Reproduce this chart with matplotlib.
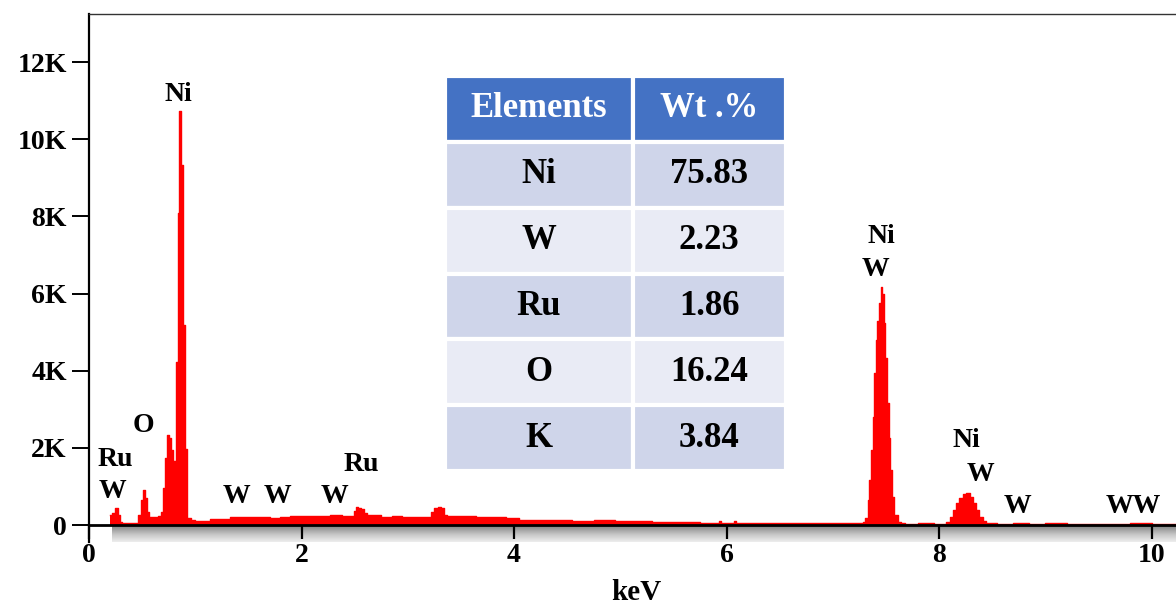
import numpy as np
import matplotlib as mpl
import matplotlib.pyplot as plt
from matplotlib.colors import LinearSegmentedColormap


mpl.rcParams.update({
    'font.family': 'serif',
    'font.serif': ['Liberation Serif', 'DejaVu Serif'],
    'font.weight': 'bold',
    'figure.facecolor': 'white',
    'axes.facecolor': 'white',
})

# EDS spectrum: left bin edge (keV) -> counts
LOW_KEV = [0.20, 0.22, 0.245, 0.275, 0.29, 0.31, 0.36, 0.41, 0.46, 0.49,
           0.51, 0.53, 0.545, 0.565, 0.61, 0.65, 0.68, 0.70, 0.715, 0.735,
           0.75, 0.77, 0.79, 0.82, 0.835, 0.85, 0.865, 0.88, 0.90, 0.92]
LOW_CNT = [260, 310, 430, 260, 85, 45, 60, 40, 260, 650,
           900, 690, 345, 215, 200, 230, 345, 950, 1730, 2330,
           2250, 1940, 1650, 4220, 8100, 10720, 9320, 5180, 1970, 180]

BG_KEV = [0.96, 1.00, 1.14, 1.25, 1.33, 1.40, 1.51, 1.60, 1.70, 1.80,
          1.89, 2.00, 2.10, 2.20, 2.27, 2.38, 2.49, 2.51, 2.53, 2.56,
          2.59, 2.62, 2.68, 2.75, 2.85, 2.95, 3.05, 3.16, 3.22, 3.25,
          3.28, 3.31, 3.34, 3.37, 3.45, 3.55, 3.64, 3.78, 3.92, 4.05,
          4.20, 4.40, 4.55, 4.75, 4.95, 5.11, 5.30, 5.55, 5.75, 5.93,
          5.95, 6.07, 6.09, 6.40, 6.80, 7.10]
BG_CNT = [130, 112, 147, 160, 200, 215, 200, 210, 195, 215,
          233, 225, 240, 230, 250, 245, 360, 475, 440, 425,
          320, 260, 250, 215, 225, 210, 220, 200, 345, 430,
          475, 430, 260, 233, 240, 225, 200, 210, 175, 130,
          140, 125, 112, 118, 105, 95, 86, 80, 43, 100,
          45, 100, 43, 45, 40, 43]

# Ni K-alpha / W L-alpha
KA_KEV = [7.25, 7.28, 7.30, 7.33, 7.345, 7.36, 7.375, 7.39, 7.405, 7.42,
          7.435, 7.45, 7.465, 7.48, 7.495, 7.51, 7.525, 7.54, 7.56, 7.58,
          7.61, 7.645, 7.68, 7.80, 7.95]
KA_CNT = [45, 85, 180, 650, 1170, 1940, 2800, 3930, 4790, 5300,
          5750, 6170, 6000, 5230, 4320, 3160, 2250, 1420, 730, 260,
          85, 40, 35, 40, 30]

# Ni K-beta / W L-beta
KB_KEV = [8.07, 8.10, 8.13, 8.16, 8.19, 8.225, 8.255, 8.29, 8.32, 8.35,
          8.38, 8.41, 8.44]
KB_CNT = [85, 215, 390, 560, 690, 800, 840, 730, 560, 390,
          215, 110, 45]

TAIL_KEV = [8.55, 8.70, 8.85, 9.00, 9.20, 9.40, 9.60, 9.80, 10.00]
TAIL_CNT = [35, 45, 30, 40, 25, 35, 30, 40, 25]
END_KEV = 10.23

# peak labels: text, keV, counts
PEAK_LABELS = [
    ('Ni', 0.837, 11170), ('O', 0.517, 2570), ('Ru', 0.245, 1710),
    ('W', 0.216, 880), ('W', 1.383, 727), ('W', 1.778, 727),
    ('W', 2.314, 727), ('Ru', 2.559, 1560), ('Ni', 7.46, 7480),
    ('W', 7.40, 6620), ('Ni', 8.26, 2180), ('W', 8.39, 1320),
    ('W', 8.74, 490), ('WW', 9.83, 490),
]

Y_TICKS = [0, 2000, 4000, 6000, 8000, 10000, 12000]
Y_TICKLABELS = ['0', '2K', '4K', '6K', '8K', '10K', '12K']
X_TICKS = [0, 2, 4, 6, 8, 10]

TABLE_HEADER = ['Elements', 'Wt .%']
TABLE_ELEMENTS = ['Ni', 'W', 'Ru', 'O', 'K']
TABLE_WT = ['75.83', '2.23', '1.86', '16.24', '3.84']

W_PX, H_PX = 1176, 608


def main():
    kev = np.array(LOW_KEV + BG_KEV + KA_KEV + KB_KEV + TAIL_KEV + [END_KEV])
    cnt = np.array(LOW_CNT + BG_CNT + KA_CNT + KB_CNT + TAIL_CNT + [TAIL_CNT[-1]])

    fig = plt.figure(figsize=(W_PX / 100, H_PX / 100), dpi=100)
    ax = fig.add_axes([89 / W_PX, (H_PX - 542) / H_PX,
                       (W_PX - 89) / W_PX, 528 / H_PX])

    # metallic shadow under the energy axis
    grad = np.linspace(0, 1, 64).reshape(-1, 1)
    cmap = LinearSegmentedColormap.from_list('bar', ['#858585', '#c4c4c4', '#eeeeee'])
    ax.imshow(grad, extent=[0.22, END_KEV, -430, -40], aspect='auto',
              cmap=cmap, origin='upper', zorder=0.5)

    ax.fill_between(kev, cnt, step='post', color='#ff0000', linewidth=0, zorder=2)
    ax.step(kev, cnt, where='post', color='#ff0000', linewidth=1.0, zorder=2)

    for txt, x, y in PEAK_LABELS:
        ax.text(x, y, txt, ha='center', va='center', fontsize=20,
                fontweight='bold', color='black', zorder=4)

    ax.set_xlim(0, END_KEV)
    ax.set_ylim(-440, 13245)

    ax.spines['right'].set_visible(False)
    ax.spines['top'].set_color('#333333')
    ax.spines['top'].set_linewidth(1.0)
    ax.spines['left'].set_linewidth(1.6)
    ax.spines['bottom'].set_position(('data', 0))
    ax.spines['bottom'].set_linewidth(2.0)

    ax.set_xticks(X_TICKS)
    ax.set_xticklabels([str(v) for v in X_TICKS])
    ax.set_yticks(Y_TICKS)
    ax.set_yticklabels(Y_TICKLABELS)
    ax.tick_params(axis='x', direction='out', length=10, width=1.6,
                   pad=3, labelsize=20)
    ax.tick_params(axis='y', direction='out', length=12, width=1.4,
                   pad=4, labelsize=20)
    for lab in ax.get_xticklabels() + ax.get_yticklabels():
        lab.set_fontweight('bold')

    fig.text(636 / W_PX, 1 - 593 / H_PX, 'keV', ha='center', va='center',
             fontsize=21, fontweight='bold')

    # composition table
    rows = [[e, w] for e, w in zip(TABLE_ELEMENTS, TABLE_WT)]
    tbl = ax.table(cellText=rows, colLabels=TABLE_HEADER, cellLoc='center',
                   colWidths=[186, 152],
                   bbox=[0.3275, 0.1345, 0.3137, 0.748], zorder=5)
    tbl.auto_set_font_size(False)
    for (r, c), cell in tbl.get_celld().items():
        cell.set_edgecolor('white')
        cell.set_linewidth(3)
        txt = cell.get_text()
        txt.set_fontsize(25)
        txt.set_fontweight('bold')
        if r == 0:
            cell.set_facecolor('#4472C4')
            txt.set_color('white')
        else:
            cell.set_facecolor('#CFD5EA' if r % 2 == 1 else '#E9EBF5')
            txt.set_color('black')

    fig.savefig('out.png', dpi=100)


if __name__ == '__main__':
    main()
